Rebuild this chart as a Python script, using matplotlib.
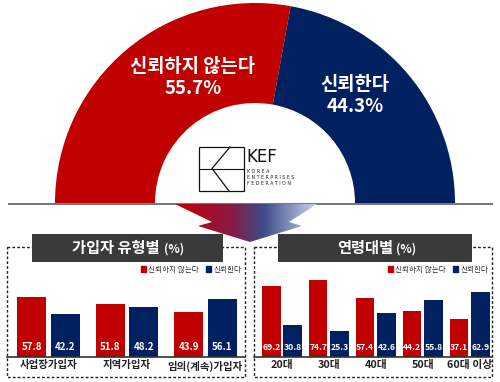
import numpy as np
import matplotlib
matplotlib.use('Agg')
import matplotlib.pyplot as plt
from matplotlib.patches import Rectangle, Polygon, Patch
from matplotlib.colors import LinearSegmentedColormap

plt.rcParams['font.family'] = ['Noto Sans CJK KR', 'DejaVu Sans']

#### data
overall_labels = ['신뢰하지 않는다', '신뢰한다']
overall_values = [55.7, 44.3]

type_categories = ['사업장가입자', '지역가입자', '임의(계속)가입자']
type_distrust = [57.8, 51.8, 43.9]
type_trust = [42.2, 48.2, 56.1]

age_categories = ['20대', '30대', '40대', '50대', '60대 이상']
age_distrust = [69.2, 74.7, 57.4, 44.2, 37.1]
age_trust = [30.8, 25.3, 42.6, 55.8, 62.9]

RED = '#C00000'
NAVY = '#002060'
DARK = '#3A3A3A'

W, H = 500, 382
fig = plt.figure(figsize=(W / 100, H / 100), dpi=100)


def px_axes(x0, y0, x1, y1):
    # axes placed by pixel box (top-left origin)
    return fig.add_axes([x0 / W, 1 - y1 / H, (x1 - x0) / W, (y1 - y0) / H])


#### half donut
ax_pie = px_axes(55, 3, 455, 403)
wedges, _ = ax_pie.pie(overall_values + [sum(overall_values)], colors=[RED, NAVY, 'none'],
                       startangle=180, counterclock=False, radius=1,
                       wedgeprops=dict(width=0.5, edgecolor='none'))
wedges[2].set_visible(False)
ax_pie.set_xlim(-1, 1)
ax_pie.set_ylim(-1, 1)
ax_pie.axis('off')

#### overlay in pixel coords
ov = px_axes(0, 0, W, H)
ov.set_xlim(0, W)
ov.set_ylim(H, 0)
ov.axis('off')
ov.patch.set_visible(False)

ov.text(193, 77, f'{overall_labels[0]}\n{overall_values[0]}%', color='white', fontsize=13.5,
        fontweight='bold', ha='center', va='center', linespacing=1.2)
ov.text(355, 95, f'{overall_labels[1]}\n{overall_values[1]}%', color='white', fontsize=13.5,
        fontweight='bold', ha='center', va='center', linespacing=1.2)

# baseline
ov.plot([8, 493], [203.5, 203.5], color='#6b6b6b', lw=1.3, solid_capstyle='butt')

# KEF logo
ov.add_patch(Rectangle((199, 147), 45, 44, fill=False, ec='#111111', lw=0.9))
ov.plot([199, 244], [168.5, 168.5], color='#111111', lw=0.8)
ov.plot([230, 212, 229], [147, 168.5, 191], color='#111111', lw=0.9)
ov.text(246, 157, 'KEF', fontsize=12, family='DejaVu Sans', color='#111111', ha='left', va='center')
for i, word in enumerate(['KOREA', 'ENTERPRISES', 'FEDERATION']):
    ov.text(247, 171.5 + i * 6, ' '.join(word), fontsize=3.4, family='DejaVu Sans',
            color='#222222', ha='left', va='center')

# gradient arrow
arrow_pts = [(175, 204), (317, 204), (289, 222), (302, 226), (250, 242), (198, 226), (212, 222)]
arrow = Polygon(arrow_pts, closed=True, fc='none', ec='none')
ov.add_patch(arrow)
cmap = LinearSegmentedColormap.from_list('arr', [(0, RED), (0.4, '#8a1a45'), (0.62, '#3d4a88'),
                                                 (1.0, '#c9d3ea')])
grad = np.tile(np.linspace(0, 1, 200), (40, 1))
img = ov.imshow(grad, cmap=cmap, extent=(175, 317, 242, 204), aspect='auto', zorder=2)
img.set_clip_path(arrow)
ov.set_xlim(0, W)
ov.set_ylim(H, 0)

# dashed boxes and title bars
for x0, x1 in [(7, 245), (254, 492)]:
    ov.add_patch(Rectangle((x0, 247), x1 - x0, 130, fill=False, ec='#222222', lw=1,
                           ls=(0, (2, 1.5)), zorder=3))
for x0, x1 in [(32, 223), (278, 472)]:
    ov.add_patch(Rectangle((x0, 234), x1 - x0, 28, fc=DARK, ec='none', zorder=4))

ov.text(160, 248, '가입자 유형별', color='white', fontsize=11, fontweight='bold',
        ha='right', va='center', zorder=5)
ov.text(164, 249, '(%)', color='white', fontsize=8.5, fontweight='bold',
        ha='left', va='center', zorder=5)
ov.text(393, 248, '연령대별', color='white', fontsize=11, fontweight='bold',
        ha='right', va='center', zorder=5)
ov.text(396, 249, '(%)', color='white', fontsize=8.5, fontweight='bold',
        ha='left', va='center', zorder=5)


#### grouped bars
def bar_panel(box, cats, distrust, trust, width, offset, xlim, label_fs, value_fs, legend_x):
    ax = px_axes(*box)
    ax.patch.set_visible(False)
    x = np.arange(len(cats))
    ax.bar(x - offset, distrust, width, color=RED)
    ax.bar(x + offset, trust, width, color=NAVY)
    px_per_unit = 1.03
    for xi, d, t in zip(x, distrust, trust):
        ax.text(xi - offset, 10 / px_per_unit, f'{d}', color='white', fontsize=value_fs,
                fontweight='bold', ha='center', va='center')
        ax.text(xi + offset, 10 / px_per_unit, f'{t}', color='white', fontsize=value_fs,
                fontweight='bold', ha='center', va='center')
    ax.set_xlim(*xlim)
    ax.set_ylim(0, (box[3] - box[1]) / px_per_unit)
    ax.set_xticks(x)
    ax.set_xticklabels(cats, fontsize=label_fs, fontweight='bold', color='#222222')
    ax.tick_params(axis='x', length=0, pad=2.5)
    ax.set_yticks([])
    for s in ['top', 'left', 'right']:
        ax.spines[s].set_visible(False)
    ax.spines['bottom'].set_color('#333333')
    ax.spines['bottom'].set_linewidth(1.2)
    handles = [Patch(color=RED), Patch(color=NAVY)]
    leg = ax.legend(handles, overall_labels, loc='upper right', bbox_to_anchor=(legend_x, 0.96),
                    ncol=2, frameon=False, fontsize=5.5, handlelength=0.7, handleheight=0.7,
                    handletextpad=0.3, columnspacing=0.9, borderaxespad=0, borderpad=0)
    for t in leg.get_texts():
        t.set_color('#333333')
    return ax


bar_panel((7, 262, 245, 357), type_categories, type_distrust, type_trust,
          0.37, 0.213, (-0.529, 2.503), 7.5, 7, 0.985)
bar_panel((254, 262, 492, 357), age_categories, age_distrust, age_trust,
          0.395, 0.229, (-0.597, 4.478), 7.8, 6.2, 0.985)

plt.savefig('out.png', dpi=100)
